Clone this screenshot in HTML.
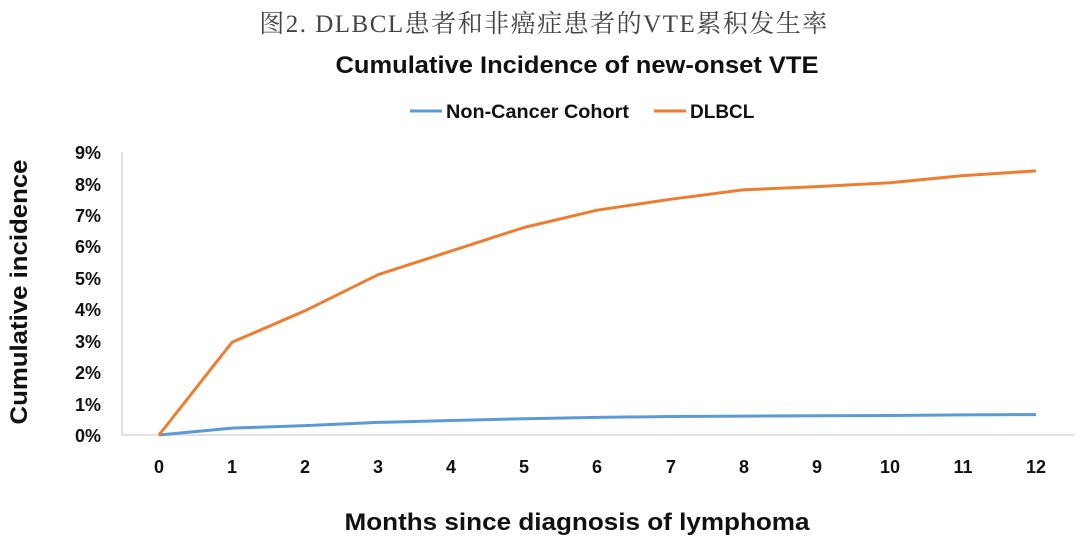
<!DOCTYPE html>
<html><head><meta charset="utf-8"><style>
html,body{margin:0;padding:0;background:#fff;}
body{width:1080px;height:544px;overflow:hidden;}
</style></head><body>
<svg width="1080" height="544" xmlns="http://www.w3.org/2000/svg" font-family="Liberation Sans, DejaVu Sans, sans-serif">
<rect width="1080" height="544" fill="#fff"/>
<text x="544" y="32" text-anchor="middle" font-family="Liberation Serif, Noto Serif CJK SC, serif" font-size="25" letter-spacing="1.5" fill="#444">图2. DLBCL患者和非癌症患者的VTE累积发生率</text>
<text x="577" y="73" text-anchor="middle" font-size="24" font-weight="bold" fill="#111" textLength="483" lengthAdjust="spacingAndGlyphs">Cumulative Incidence of new-onset VTE</text>
<line x1="410" y1="111" x2="442" y2="111" stroke="#5b9bd5" stroke-width="3"/>
<text x="446" y="118" font-size="19" font-weight="bold" fill="#111" textLength="183" lengthAdjust="spacingAndGlyphs">Non-Cancer Cohort</text>
<line x1="654" y1="111" x2="686" y2="111" stroke="#ed7d31" stroke-width="3"/>
<text x="690" y="118" font-size="19" font-weight="bold" fill="#111">DLBCL</text>
<line x1="122" y1="152" x2="122" y2="435" stroke="#d9d9d9" stroke-width="1.5"/>
<line x1="122" y1="435" x2="1075" y2="435" stroke="#d9d9d9" stroke-width="1.5"/>
<g font-size="18" font-weight="bold" fill="#111" text-anchor="end">
<text x="101" y="442">0%</text><text x="101" y="411">1%</text><text x="101" y="379">2%</text><text x="101" y="348">3%</text><text x="101" y="316">4%</text><text x="101" y="285">5%</text><text x="101" y="253">6%</text><text x="101" y="222">7%</text><text x="101" y="191">8%</text><text x="101" y="159">9%</text>
</g>
<g font-size="18" font-weight="bold" fill="#111" text-anchor="middle">
<text x="159" y="473">0</text><text x="232" y="473">1</text><text x="305" y="473">2</text><text x="378" y="473">3</text><text x="451" y="473">4</text><text x="524" y="473">5</text><text x="597" y="473">6</text><text x="671" y="473">7</text><text x="744" y="473">8</text><text x="817" y="473">9</text><text x="890" y="473">10</text><text x="963" y="473">11</text><text x="1036" y="473">12</text>
</g>
<text x="577" y="530" text-anchor="middle" font-size="24" font-weight="bold" fill="#111" textLength="465" lengthAdjust="spacingAndGlyphs">Months since diagnosis of lymphoma</text>
<text transform="translate(27,292) rotate(-90)" text-anchor="middle" font-size="24" font-weight="bold" fill="#111" textLength="265" lengthAdjust="spacingAndGlyphs">Cumulative incidence</text>
<polyline fill="none" stroke="#5b9bd5" stroke-width="3" stroke-linejoin="round" points="159,435 232,428.1 305,425.6 378,422.4 451,420.5 524,418.7 597,417.4 671,416.5 744,416.1 817,415.8 890,415.5 963,414.9 1036,414.6"/>
<polyline fill="none" stroke="#ed7d31" stroke-width="3" stroke-linejoin="round" points="159,435 232,342.3 305,310.8 378,274.7 451,251.1 524,227.5 597,210.2 671,199.2 744,189.8 817,186.6 890,182.8 963,175.6 1036,170.9"/>
</svg>
</body></html>
